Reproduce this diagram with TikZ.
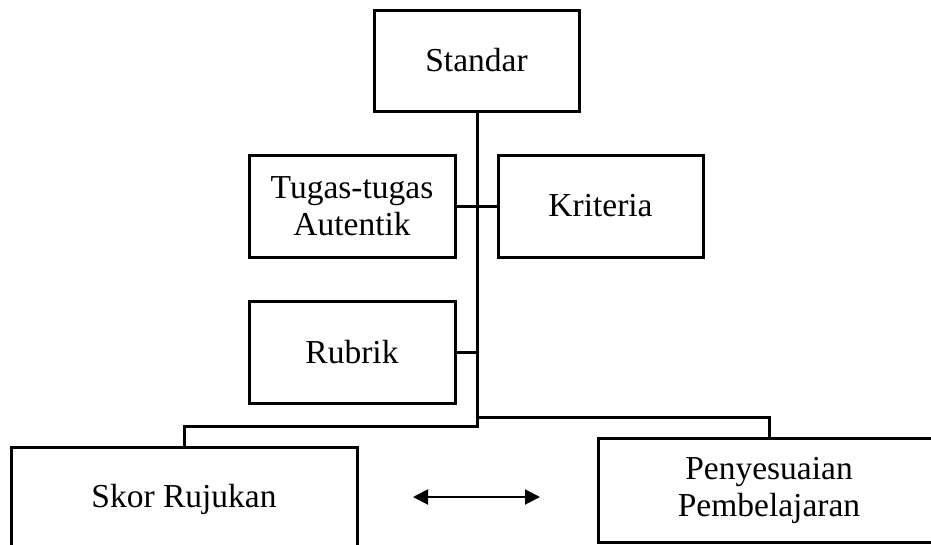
\documentclass[tikz,border=0pt]{standalone}
\usepackage{fontspec}
\setmainfont{Liberation Serif}
\usetikzlibrary{arrows.meta}
\begin{document}
\begin{tikzpicture}[x=1pt,y=-1pt,
  box/.style={draw=black, line width=3pt, rectangle, inner sep=0pt, align=center,
    font=\fontsize{33.5}{37}\selectfont},
  link/.style={draw=black, line width=3pt},
  dbl/.style={line width=2pt, {Triangle[length=15pt,width=15pt]}-{Triangle[length=15pt,width=15pt]}}]
\useasboundingbox (0,0) rectangle (931,544);
\fill[white] (0,0) rectangle (931,544);
\node[box, minimum width=205pt, minimum height=101pt] (std) at (476.5,60.5) {Standar};
\node[box, minimum width=206pt, minimum height=102pt] (tug) at (352,206) {Tugas-tugas\\Autentik};
\node[box, minimum width=205pt, minimum height=102pt] (kri) at (600.5,206) {Kriteria};
\node[box, minimum width=206pt, minimum height=102pt] (rub) at (352,352) {Rubrik};
\node[box, minimum width=346pt, minimum height=104pt] (sko) at (184,499) {Skor Rujukan};
\node[box, minimum width=342pt, minimum height=104pt] (pen) at (769,490) {Penyesuaian\\Pembelajaran};
\coordinate (tb) at (477,426);
\coordinate (tr) at (477,417);
\path[link] (std.south -| tb) -- (tb) -- (tb -| sko.north) -- (sko.north);
\path[link] (tr) -- (tr -| pen.north) -- (pen.north);
\path[link] (tug.east) -- (kri.west);
\path[link] (rub.east) -- (rub.east -| tb);
\coordinate (al) at (413,497);
\coordinate (ar) at (540,497);
\draw[dbl] (al) -- (ar);
\end{tikzpicture}
\end{document}
